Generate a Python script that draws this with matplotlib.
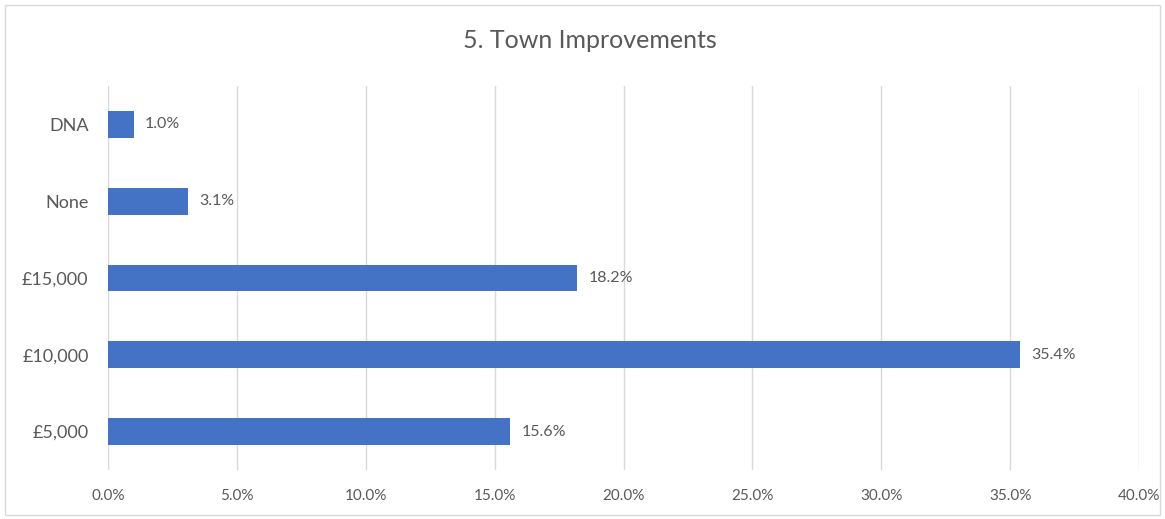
import matplotlib
matplotlib.use("Agg")
import matplotlib.pyplot as plt
from matplotlib.patches import Rectangle
from matplotlib.ticker import FuncFormatter, MultipleLocator

categories = ["£5,000", "£10,000", "£15,000", "None", "DNA"]
values = [15.6, 35.4, 18.2, 3.1, 1.0]
title = "5. Town Improvements"

plt.rcParams['font.family'] = ['Lato', 'DejaVu Sans']
text_color = "#595959"

fig = plt.figure(figsize=(11.65, 5.19), dpi=100)
ax = fig.add_axes([108/1165, 1-470/519, (1139-108)/1165, (470-86)/519])

ypos = list(range(len(categories)))
bars = ax.barh(ypos, values, height=0.35, color="#4472C4", zorder=3)
for y, v in zip(ypos, values):
    ax.annotate(f"{v:.1f}%", (v, y), xytext=(8, 0), textcoords="offset points",
                va="center", ha="left", fontsize=11.5, color=text_color)

ax.set_xlim(0, 40)
ax.set_ylim(-0.5, len(categories) - 0.5)
ax.xaxis.set_major_locator(MultipleLocator(5))
ax.xaxis.set_major_formatter(FuncFormatter(lambda x, p: f"{x:.1f}%"))
ax.set_yticks(ypos)
ax.set_yticklabels(categories)
ax.tick_params(axis='y', length=0, pad=14, labelsize=13, labelcolor=text_color)
ax.tick_params(axis='x', length=0, pad=14, labelsize=11, labelcolor=text_color)
ax.grid(axis='x', color="#D9D9D9", linewidth=1, zorder=0)
for s in ax.spines.values():
    s.set_visible(False)

fig.text(590/1165, 1-40/519, title, ha="center", va="center", fontsize=18, color=text_color)
fig.patches.append(Rectangle((5/1165, 4/519), 1155/1165, 510/519, transform=fig.transFigure,
                             fill=False, edgecolor="#D9D9D9", linewidth=1))

fig.savefig("out.png", dpi=100)
